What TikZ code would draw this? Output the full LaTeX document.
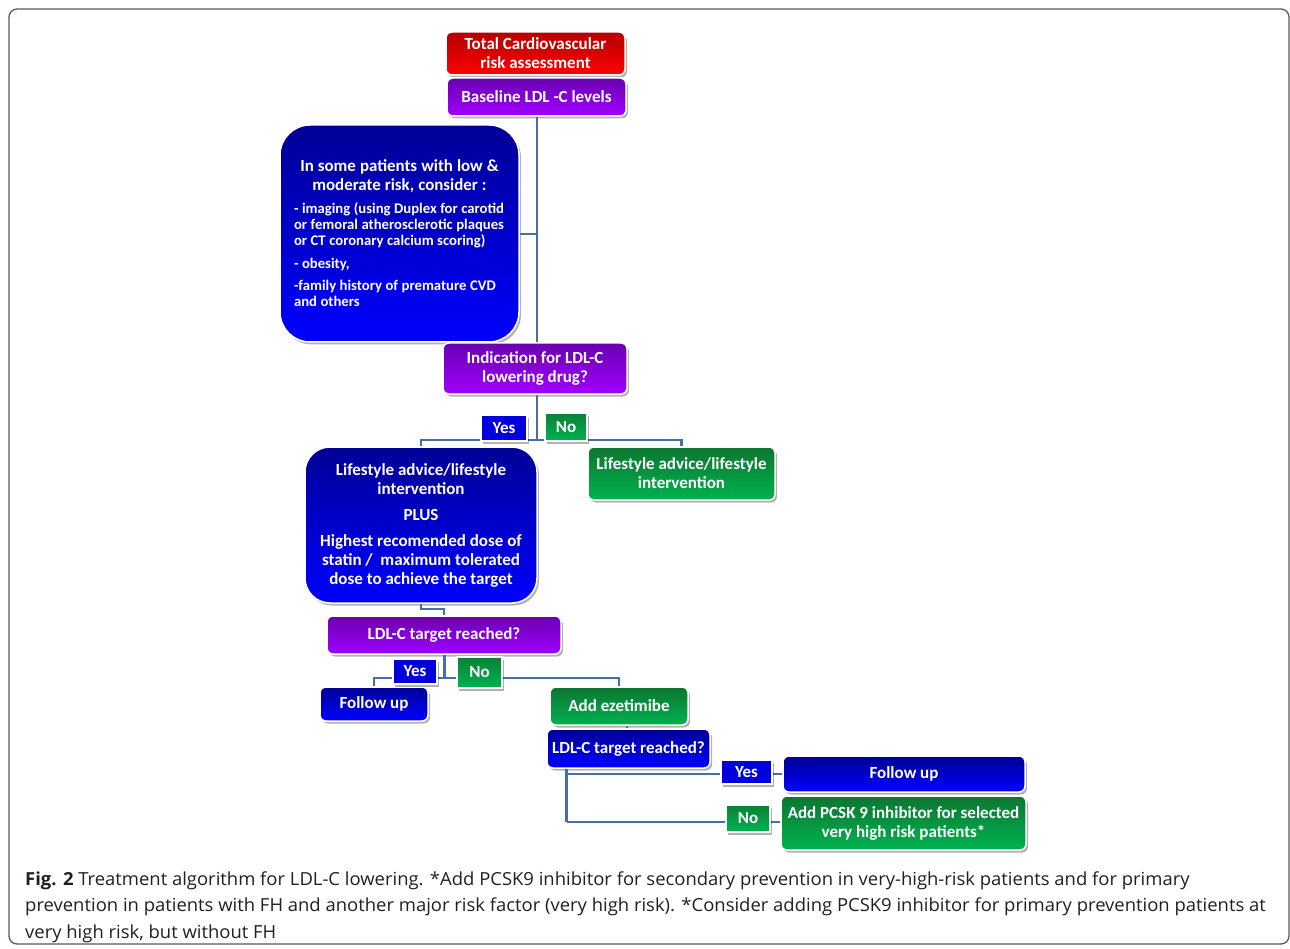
\documentclass[tikz,border=0pt]{standalone}
\usepackage{fontspec}
\setmainfont{Carlito}
\newfontfamily\capfont[FakeStretch=1.025]{Open Sans}
\usetikzlibrary{shadows}
\definecolor{conn}{RGB}{70,112,165}
\definecolor{blueT}{RGB}{0,0,150}
\definecolor{blueB}{RGB}{0,0,255}
\definecolor{purT}{RGB}{105,0,175}
\definecolor{purB}{RGB}{160,0,255}
\definecolor{grnT}{RGB}{12,118,48}
\definecolor{grnB}{RGB}{0,178,80}
\definecolor{redT}{RGB}{180,0,0}
\definecolor{redB}{RGB}{255,0,0}
\definecolor{capcol}{RGB}{35,31,32}
\definecolor{frame}{RGB}{90,90,90}
\begin{document}
\begin{tikzpicture}[x=1pt,y=-1pt,
  basebox/.style={draw=white, line width=1.5pt, inner sep=0pt, text=white,
    font=\bfseries\fontsize{17}{19}\selectfont,
    drop shadow={shadow xshift=2pt, shadow yshift=-2.5pt, opacity=0.3, fill=black}},
  box/.style={basebox, rounded corners=6pt, align=center},
  bluebox/.style={top color=blueT, bottom color=blueB},
  purbox/.style={top color=purT, bottom color=purB},
  grnbox/.style={top color=grnT, bottom color=grnB},
  redbox/.style={top color=redT, bottom color=redB},
  yeslab/.style={basebox, fill={rgb,255:red,0;green,0;blue,220}, align=center},
  nolab/.style={basebox, top color=grnT!80!grnB, bottom color=grnB, align=center},
  wire/.style={draw=conn, line width=2.6pt},
  capline/.style={anchor=base west, inner sep=0pt, text=capcol, font=\capfont\fontsize{18}{22}\selectfont}
]
\useasboundingbox (0,0) rectangle (1290,949);
\fill[white] (0,0) rectangle (1290,949);
\draw[frame, line width=1.3pt, rounded corners=8pt] (9,9) rectangle (1289,944);

% nodes
\node[box, redbox, minimum width=179pt, minimum height=43pt] (risk) at (535.5,53.5)
  {Total Cardiovascular\\risk assessment};
\node[box, purbox, minimum width=179pt, minimum height=38pt] (base) at (536.5,97)
  {Baseline LDL -C levels};
\node[basebox, bluebox, rounded corners=30pt, minimum width=239pt, minimum height=217pt,
  text width=211pt] (big) at (399.5,233.5)
  {{\centering\fontsize{16.9}{19}\selectfont\spaceskip=0.24em\relax In some patients with low \&\\moderate risk, consider :\par}
   \vspace{7pt}
   {\fontsize{14.7}{16}\selectfont\spaceskip=0.24em\relax\raggedright - imaging (using Duplex for carotid\\or femoral atherosclerotic plaques\\or CT coronary calcium scoring)\par
   \vspace{7pt}- obesity,\par
   \vspace{6pt}-family history of premature CVD\\and others\par}};
\node[box, purbox, minimum width=184pt, minimum height=51pt] (ind) at (535,368.5)
  {Indication for LDL-C\\lowering drug?};
\node[basebox, bluebox, rounded corners=25pt, align=center, minimum width=232pt, minimum height=156pt] (plus) at (421,525)
  {Lifestyle advice/lifestyle\\intervention\\[7pt]PLUS\\[7pt]Highest recomended dose of\\statin /\ \ maximum tolerated\\dose to achieve the target};
\node[box, grnbox, minimum width=187pt, minimum height=53pt] (lifeG) at (681.5,473.5)
  {Lifestyle advice/lifestyle\\intervention};
\node[box, purbox, minimum width=234pt, minimum height=38pt] (tr1) at (444,635)
  {LDL-C target reached?};
\node[box, bluebox, minimum width=108pt, minimum height=34pt] (fu1) at (374,704)
  {Follow up};
\node[box, grnbox, minimum width=138pt, minimum height=38pt] (eze) at (619,706)
  {Add ezetimibe};
\node[box, bluebox, minimum width=163pt, minimum height=39pt] (tr2) at (628.5,748.5)
  {LDL-C target reached?};
\node[box, bluebox, minimum width=242pt, minimum height=36pt] (fu2) at (904,774)
  {Follow up};
\node[box, grnbox, minimum width=245pt, minimum height=54pt] (pcsk) at (903.5,823)
  {Add PCSK 9 inhibitor for selected\\very high risk patients*};

% junction coordinates
\coordinate (j0) at (537,234);
\coordinate (j1) at (537,440);
\coordinate (j2) at (444,609);
\coordinate (j3) at (444.5,678);
\coordinate (j4) at (566.5,774);
\coordinate (j5) at (566.5,822);
\coordinate (j6) at (627,700);

% connectors
\draw[wire] (base.south -| j0) -- (ind.north -| j0);
\draw[wire] (big.east |- j0) -- (j0);
\draw[wire] (ind.south -| j1) -- (j1);
\draw[wire] (plus.north) |- (j1) -| (lifeG.north);
\draw[wire] (plus.south) |- (j2) -- (tr1.north);
\draw[wire] (tr1.south -| j3) -- (j3);
\draw[wire] (fu1.north) |- (j3) -| (eze.north);
\draw[wire] (eze.south -| j6) -- (tr2.north -| j6);
\draw[wire] (tr2.south -| j4) -- (j5);
\draw[wire] (j4) -- (fu2.west);
\draw[wire] (j5) -- (pcsk.west |- j5);

% yes / no labels
\node[yeslab, minimum width=46pt, minimum height=26pt] (yes1) at (504,428) {Yes};
\node[nolab, minimum width=42pt, minimum height=28pt] (no1) at (566,427) {No};
\node[yeslab, minimum width=44pt, minimum height=25pt] (yes2) at (415,671.5) {Yes};
\node[nolab, minimum width=45pt, minimum height=31pt] (no2) at (479.5,672.5) {No};
\node[yeslab, minimum width=51pt, minimum height=24pt] (yes3) at (746.5,772) {Yes};
\node[nolab, minimum width=44pt, minimum height=27pt] (no3) at (748,818.5) {No};

% caption
\node[capline] (cap1) at (25,885) {\textbf{Fig. 2} Treatment algorithm for LDL-C lowering. *Add PCSK9 inhibitor for secondary prevention in very-high-risk patients and for primary};
\node[capline] (cap2) at (25,911.5) {prevention in patients with FH and another major risk factor (very high risk). *Consider adding PCSK9 inhibitor for primary prevention patients at};
\node[capline] (cap3) at (25,938) {very high risk, but without FH};
\end{tikzpicture}
\end{document}
